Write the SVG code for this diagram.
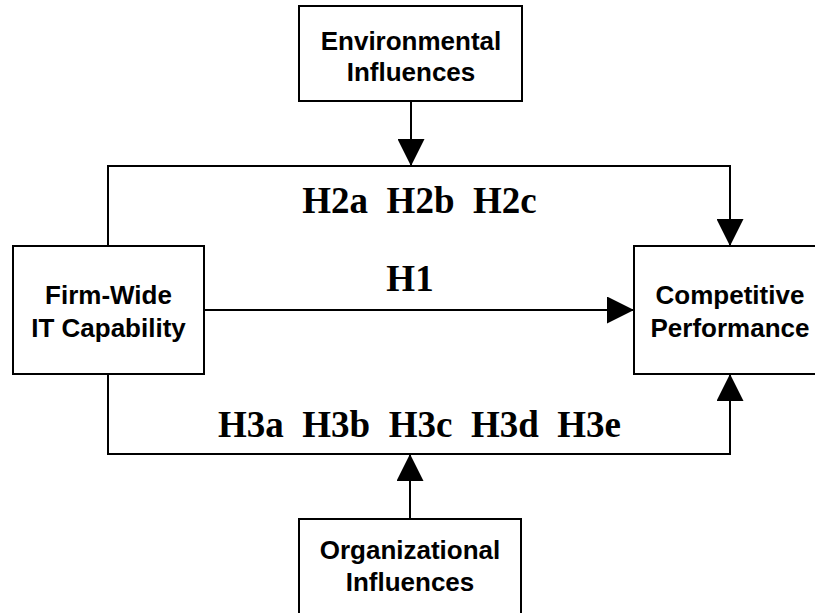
<svg xmlns="http://www.w3.org/2000/svg" width="815" height="613" viewBox="0 0 815 613">
  <style>
    .box { fill: #ffffff; stroke: #000000; stroke-width: 2; }
    .wire { fill: none; stroke: #000000; stroke-width: 2; }
    .node-label { font-family: "Liberation Sans", Arial, sans-serif; font-weight: bold; font-size: 26px; fill: #000000; text-anchor: middle; }
    .hyp { font-family: "Liberation Serif", "Times New Roman", serif; font-weight: bold; font-size: 37px; fill: #000000; text-anchor: middle; }
  </style>
  <defs>
    <marker id="arrow" markerUnits="userSpaceOnUse" markerWidth="27" markerHeight="27" viewBox="0 0 27 27" refX="27" refY="13.5" orient="auto">
      <path d="M0,0 L27,13.5 L0,27 Z" fill="#000000"/>
    </marker>
  </defs>
  <rect width="815" height="613" fill="#ffffff"/>

  <g id="connectors">
    <!-- upper path: capability to performance, moderated by environment -->
    <path class="wire" d="M108,246 L108,166 L730,166 L730,246" marker-end="url(#arrow)"/>
    <!-- direct effect -->
    <path class="wire" d="M204,310 L634,310" marker-end="url(#arrow)"/>
    <!-- lower path: capability to performance, moderated by organization -->
    <path class="wire" d="M108,374 L108,454 L730,454 L730,374" marker-end="url(#arrow)"/>
    <!-- moderator arrows -->
    <path class="wire" d="M411,101 L411,166" marker-end="url(#arrow)"/>
    <path class="wire" d="M410,519 L410,454" marker-end="url(#arrow)"/>
  </g>

  <g id="environmental">
    <rect class="box" x="299" y="6" width="223" height="95"/>
    <text class="node-label" x="411" y="50">Environmental</text>
    <text class="node-label" x="411" y="81">Influences</text>
  </g>

  <g id="firm-wide">
    <rect class="box" x="13" y="246" width="191" height="128"/>
    <text class="node-label" x="108.5" y="304">Firm-Wide</text>
    <text class="node-label" x="108.5" y="337">IT Capability</text>
  </g>

  <g id="competitive">
    <rect class="box" x="634" y="246" width="192" height="128"/>
    <text class="node-label" x="730" y="304">Competitive</text>
    <text class="node-label" x="730" y="337">Performance</text>
  </g>

  <g id="organizational">
    <rect class="box" x="299" y="519" width="222" height="110"/>
    <text class="node-label" x="410" y="559">Organizational</text>
    <text class="node-label" x="410" y="591">Influences</text>
  </g>

  <g id="hypotheses">
    <text class="hyp" x="419.5" y="213" xml:space="preserve">H2a  H2b  H2c</text>
    <text class="hyp" x="410" y="291">H1</text>
    <text class="hyp" x="419.5" y="437" xml:space="preserve">H3a  H3b  H3c  H3d  H3e</text>
  </g>
</svg>
